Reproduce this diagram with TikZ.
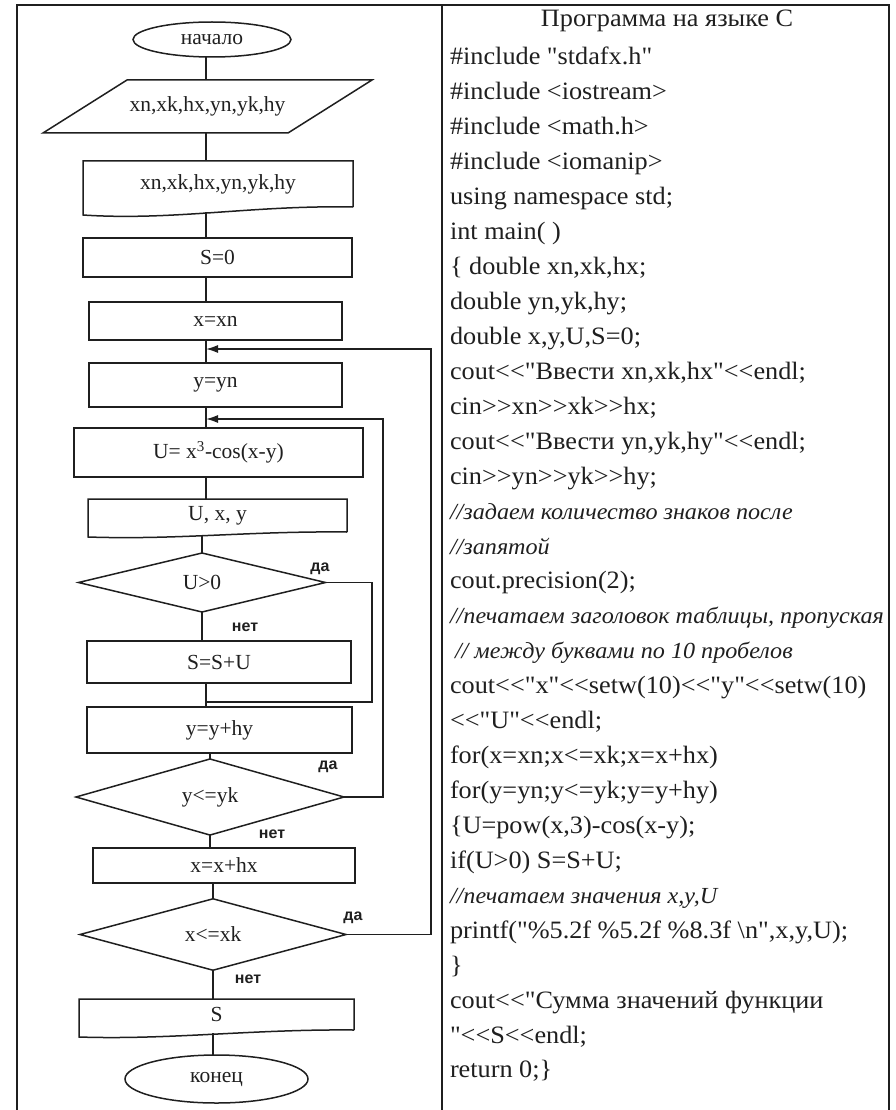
\documentclass[tikz,border=0pt]{standalone}
\usepackage{fontspec}
\setmainfont{Liberation Serif}
\newfontfamily\codefont{Liberation Serif}[FakeStretch=1.05]
\newfontfamily\lblfont{Liberation Sans}
\usetikzlibrary{shapes.geometric,arrows.meta,calc}
\colorlet{ink}{black!88}

% one line of the C listing: line number, node name, text
\newcommand\codeln[3]{\node[code] (#2) at (450,{65+(#1-1)*34.93}) {#3};}
\newcommand\cmtln[3]{\node[cmt] (#2) at (450,{65+(#1-1)*34.93}) {#3};}

\begin{document}
\begin{tikzpicture}[x=1pt,y=-1pt,
  every node/.style={inner sep=0pt, outer sep=0pt},
  frame/.style={draw=ink, line width=1.8pt},
  ln/.style={draw=ink, line width=1.5pt},
  fc/.style={font=\fontsize{21.5}{22}\selectfont, text=ink},
  proc/.style={fc, ln, rectangle},
  term/.style={fc, ln, ellipse},
  cond/.style={fc, ln, diamond},
  ghost/.style={fc, rectangle},
  lbl/.style={font=\lblfont\bfseries\fontsize{16}{16}\selectfont, text=ink},
  code/.style={anchor=base west, text=ink, font=\codefont\fontsize{25}{25}\selectfont},
  cmt/.style={anchor=base west, text=ink, font=\codefont\itshape\fontsize{23}{23}\selectfont},
  arr/.style={ln, -{Latex[length=12pt,width=8pt]}}]

\useasboundingbox (0,0) rectangle (895,1110);

% outer frame and column divider
\draw[frame] (17,1120) -- (17,5) -- (889,5) -- (889,1120);
\draw[frame] (442,5) -- (442,1120);

% ---------- flowchart ----------
\coordinate (spine) at (206,0);

\node[term, minimum width=158, minimum height=35] (start) at (212,39.5) {начало};

\node[ghost, minimum width=245, minimum height=53] (inp) at (207.5,106.5) {\raisebox{-5pt}{xn,xk,hx,yn,yk,hy}};
\draw[ln] ($(inp.north west)+(42,0)$) -- ($(inp.north east)+(42,0)$)
  -- ($(inp.south east)+(-42,0)$) -- ($(inp.south west)+(-42,0)$) -- cycle;

\node[ghost, minimum width=270, minimum height=46] (rd) at (218,184) {xn,xk,hx,yn,yk,hy};
\draw[ln] (rd.south east) -- (rd.north east) -- (rd.north west) -- ($(rd.south west)+(0,8)$)
  .. controls ($(rd.south west)+(90,14)$) and ($(rd.south east)+(-100,-2)$) .. (rd.south east);

\node[proc, minimum width=269, minimum height=39] (s0) at (217.5,257.5) {S=0};
\node[proc, minimum width=253, minimum height=38] (xn) at (215.5,321) {x=xn};
\node[proc, minimum width=253, minimum height=44] (yn) at (215.5,385) {y=yn};
\node[proc, minimum width=289, minimum height=49] (fu) at (218.5,452.5) {U= x\textsuperscript{3}-cos(x-y)};

\node[ghost, minimum width=259, minimum height=33] (ud) at (217.5,515.5) {\raisebox{-4pt}{U, x, y}};
\draw[ln] (ud.south east) -- (ud.north east) -- (ud.north west) -- ($(ud.south west)+(0,5)$)
  .. controls ($(ud.south west)+(90,8)$) and ($(ud.south east)+(-100,-1)$) .. (ud.south east);

\node[cond, minimum width=247, minimum height=59] (c1) at (202,582.5) {U>0};
\node[proc, minimum width=264, minimum height=42] (ssu) at (219,662) {S=S+U};
\node[proc, minimum width=265, minimum height=46] (yhy) at (219.5,730) {y=y+hy};
\node[cond, minimum width=268, minimum height=62] (c2) at (210,797) {y<=yk};
\node[proc, minimum width=262, minimum height=35] (xhx) at (224,865.5) {x=x+hx};
\node[cond, minimum width=266, minimum height=53] (c3) at (213,934.5) {x<=xk};

\node[ghost, minimum width=275, minimum height=31] (sd) at (216.5,1014.5) {\raisebox{-5pt}{S}};
\draw[ln] (sd.south east) -- (sd.north east) -- (sd.north west) -- ($(sd.south west)+(0,7)$)
  .. controls ($(sd.south west)+(90,10)$) and ($(sd.south east)+(-100,-1)$) .. (sd.south east);

\node[term, minimum width=183, minimum height=48] (fin) at (216.5,1079) {конец};

% main flow
\draw[ln] (spine |- start.south) -- (spine |- inp.north);
\draw[ln] (spine |- inp.south) -- (spine |- rd.north);
\draw[ln] ($(spine |- rd.south)+(0,5)$) -- (spine |- s0.north);
\draw[ln] (spine |- s0.south) -- (spine |- xn.north);
\draw[ln] (spine |- xn.south) -- (spine |- yn.north);
\draw[ln] (spine |- yn.south) -- (spine |- fu.north);
\draw[ln] (spine |- fu.south) -- (spine |- ud.north);
\draw[ln] ($(c1.north |- ud.south)+(0,3)$) -- (c1.north);
\draw[ln] (c1.south) -- (c1.south |- ssu.north);
\draw[ln] (spine |- ssu.south) -- (spine |- yhy.north);
\draw[ln] (c2.north |- yhy.south) -- (c2.north);
\draw[ln] (c2.south) -- (c2.south |- xhx.north);
\draw[ln] (c3.north |- xhx.south) -- (c3.north);
\draw[ln] (c3.south) -- ($(c3.south |- sd.north)$);
\draw[ln] ($(c3.south |- sd.south)+(0,3)$) -- (c3.south |- fin.north);

% loop joints on the main line
\coordinate (j1) at (206,349);
\coordinate (j2) at (206,419);
\coordinate (j3) at (206,702);

\draw[arr] (c3.east) -| ($(j1)+(225,0)$) -- (j1);
\draw[arr] (c2.east) -| ($(j2)+(177,0)$) -- (j2);
\draw[ln]  (c1.east) -| ($(j3)+(166,0)$) -- (j3);

% branch labels
\node[lbl] (y1) at (320,569) {да};
\node[lbl] (n1) at (245,627) {нет};
\node[lbl] (y2) at (328,767) {да};
\node[lbl] (n2) at (272,834) {нет};
\node[lbl] (y3) at (353,918) {да};
\node[lbl] (n3) at (248,979) {нет};

% ---------- C listing ----------
\node[anchor=base, text=ink, font=\codefont\fontsize{25}{25}\selectfont] (title) at (667,27) {Программа на языке С};

\codeln{1}{l1}{\#include "stdafx.h"}
\codeln{2}{l2}{\#include <iostream>}
\codeln{3}{l3}{\#include <math.h>}
\codeln{4}{l4}{\#include <iomanip>}
\codeln{5}{l5}{using namespace std;}
\codeln{6}{l6}{int main( )}
\codeln{7}{l7}{\{ double xn,xk,hx;}
\codeln{8}{l8}{double yn,yk,hy;}
\codeln{9}{l9}{double x,y,U,S=0;}
\codeln{10}{l10}{cout<<"Ввести xn,xk,hx"<<endl;}
\codeln{11}{l11}{cin>>xn>>xk>>hx;}
\codeln{12}{l12}{cout<<"Ввести yn,yk,hy"<<endl;}
\codeln{13}{l13}{cin>>yn>>yk>>hy;}
\cmtln{14}{l14}{//задаем количество знаков после}
\cmtln{15}{l15}{//запятой}
\codeln{16}{l16}{cout.precision(2);}
\cmtln{17}{l17}{//печатаем заголовок таблицы, пропуская}
\cmtln{18}{l18}{\hspace{5pt}// между буквами по 10 пробелов}
\codeln{19}{l19}{cout<<"x"<<setw(10)<<"y"<<setw(10)}
\codeln{20}{l20}{<<"U"<<endl;}
\codeln{21}{l21}{for(x=xn;x<=xk;x=x+hx)}
\codeln{22}{l22}{for(y=yn;y<=yk;y=y+hy)}
\codeln{23}{l23}{\{U=pow(x,3)-cos(x-y);}
\codeln{24}{l24}{if(U>0) S=S+U;}
\cmtln{25}{l25}{//печатаем значения x,y,U}
\codeln{26}{l26}{printf("\%5.2f \%5.2f \%8.3f \textbackslash n",x,y,U);}
\codeln{27}{l27}{\}}
\codeln{28}{l28}{cout<<"Сумма значений функции}
\codeln{29}{l29}{"<<S<<endl;}
\codeln{30}{l30}{return 0;\}}

\end{tikzpicture}
\end{document}
